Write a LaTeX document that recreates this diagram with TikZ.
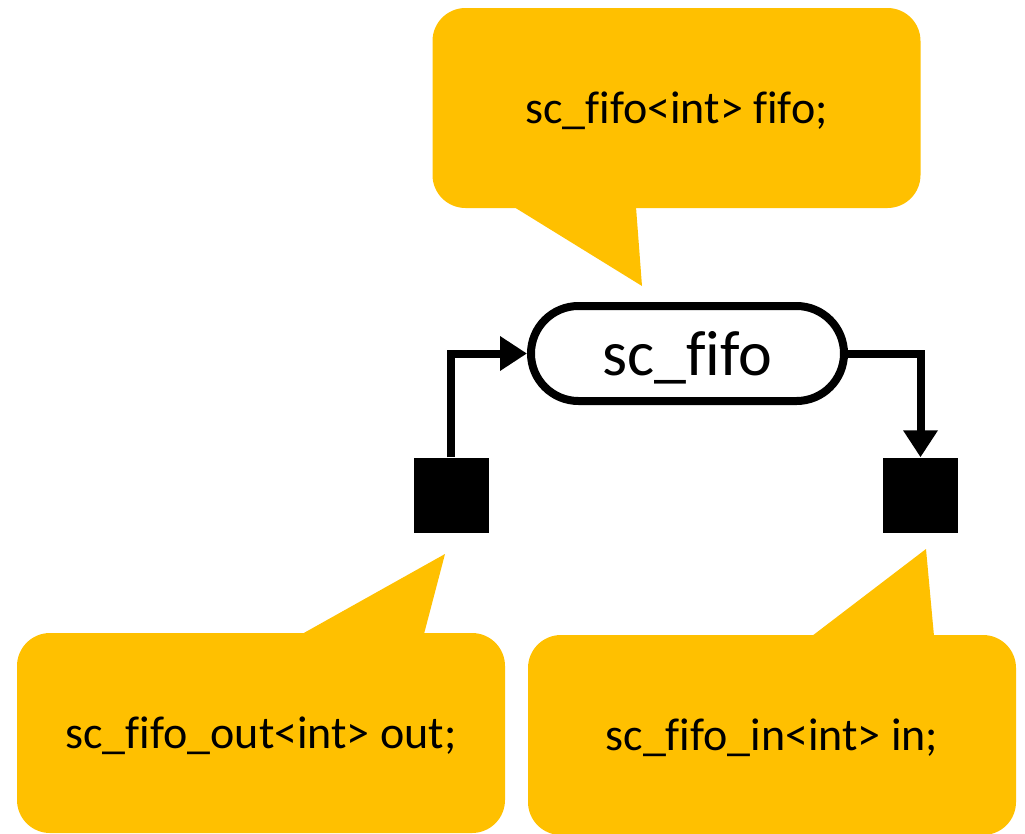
\documentclass[tikz,border=0pt]{standalone}
\usepackage{fontspec}
\setmainfont{Carlito}[Ligatures=NoCommon, RawFeature={-liga;-clig;-rlig}]
\usetikzlibrary{shapes.misc,arrows.meta}
\definecolor{calloutgold}{HTML}{FFC000}

\begin{document}
\begin{tikzpicture}[x=1pt, y=-1pt,
	note/.style = {fill=calloutgold, rounded corners=33pt, minimum width=488pt, minimum height=200pt, inner sep=0pt, text depth=0pt, font=\fontsize{46}{52}\selectfont},
	channel/.style = {draw, rounded rectangle, line width=8pt, minimum width=313pt, minimum height=95pt, inner sep=0pt, text depth=0pt, font=\fontsize{64}{70}\selectfont},
	port/.style = {fill=black, minimum size=75pt, inner sep=0pt},
	wire/.style = {line width=8pt, -{Triangle[length=27pt, width=33pt]}}]
	\useasboundingbox (0,0) rectangle (1025,833);
		% callouts
		\node[note] (decl) at (676.5,108) {sc\_fifo<int> fifo;};
		\node[note] (outdecl) at (261,733) {sc\_fifo\_out<int> out;};
		\node[note] (indecl) at (772,735) {sc\_fifo\_in<int> in;};
		\coordinate (decltip) at (642,286);
		\coordinate (outtip) at (445,554);
		\coordinate (intip) at (926,549);
		\fill[calloutgold] (514,207) -- (decltip) -- (636,207) -- cycle;
		\fill[calloutgold] (302,634) -- (outtip) -- (424,634) -- cycle;
		\fill[calloutgold] (812,636) -- (intip) -- (934,636) -- cycle;
		% channel and ports
		\node[channel] (fifo) at (687.5,353.5) {sc\_fifo};
		\node[port] (outp) at (451,495) {};
		\node[port] (inp) at (920.5,495) {};
		\draw[wire] (outp.north) |- (fifo.west);
		\draw[wire] (fifo.east) -| (inp.north);

	\end{tikzpicture}
\end{document}
